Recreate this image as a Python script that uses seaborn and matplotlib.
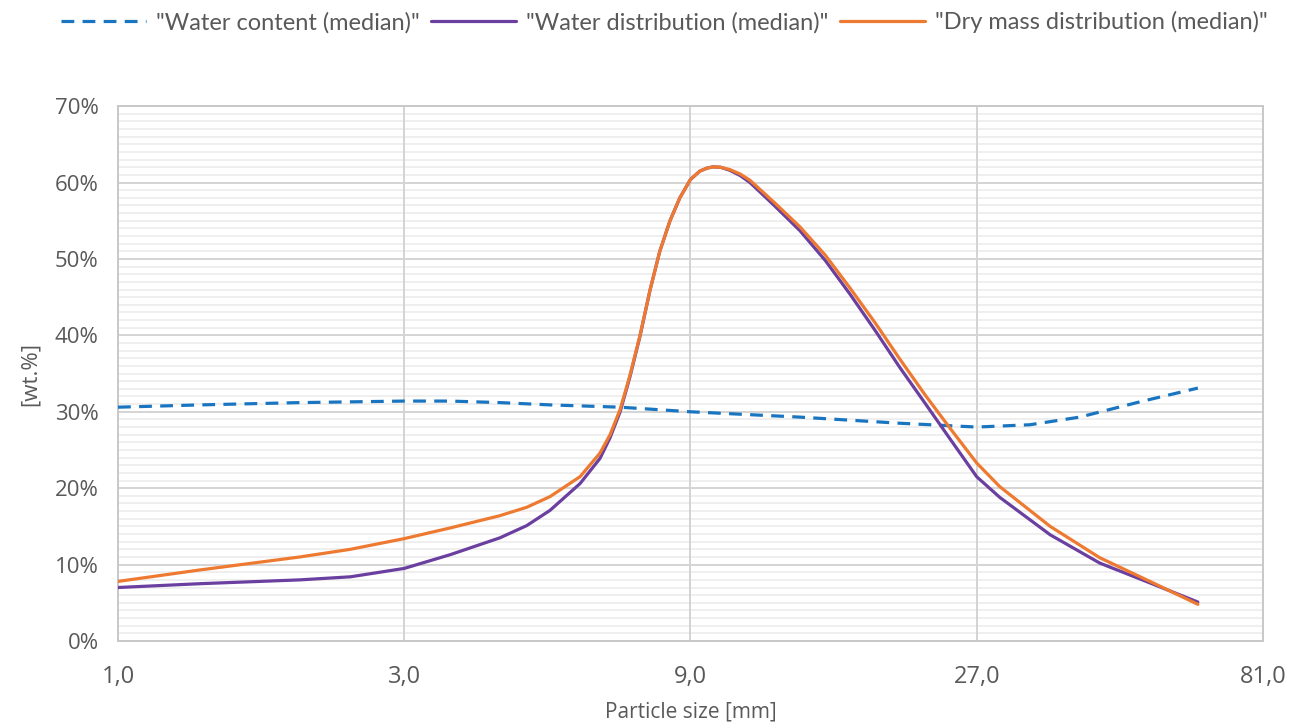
import numpy as np
import pandas as pd
import seaborn as sns
import matplotlib.pyplot as plt
from matplotlib.ticker import FixedLocator, FuncFormatter, MultipleLocator, NullLocator

# values (particle size in mm, wt.%)
size_wd = [1.0, 1.37, 2.01, 2.44, 3.0, 3.58, 4.33, 4.8, 5.25, 5.89, 6.36, 6.61, 6.87, 7.13,
           7.41, 7.71, 8.0, 8.32, 8.64, 9.0, 9.33, 9.6, 9.81, 10.1, 10.47, 10.9, 11.31, 12.45,
           13.7, 15.1, 16.6, 18.3, 20.1, 22.2, 24.4, 27.0, 29.5, 35.8, 43.3, 52.5, 63.1]
water_dist = [7.0, 7.5, 8.0, 8.4, 9.5, 11.3, 13.5, 15.1, 17.1, 20.6, 23.9, 26.6, 30.0, 34.5,
              39.8, 46.0, 51.0, 55.0, 58.0, 60.4, 61.5, 61.9, 62.05, 62.0, 61.6, 60.9, 60.0,
              56.9, 53.7, 49.8, 45.4, 40.6, 35.8, 31.0, 26.4, 21.5, 18.8, 13.9, 10.2, 7.6, 5.1]
dry_dist = [7.8, 9.3, 11.0, 12.0, 13.4, 14.8, 16.4, 17.5, 18.9, 21.5, 24.6, 27.0, 30.3, 34.7,
            39.9, 46.0, 51.0, 55.0, 58.0, 60.4, 61.5, 61.9, 62.05, 62.0, 61.7, 61.1, 60.3,
            57.3, 54.2, 50.5, 46.2, 41.6, 36.9, 32.1, 27.8, 23.3, 20.2, 15.0, 10.9, 7.8, 4.8]

size_wc = [1.0, 1.37, 2.01, 3.0, 3.58, 4.33, 5.25, 6.87, 9.0, 13.7, 20.1, 27.0, 33.1, 40.1,
           50.5, 63.1]
water_content = [30.6, 30.9, 31.2, 31.4, 31.4, 31.2, 30.9, 30.6, 30.0, 29.3, 28.5, 28.0,
                 28.3, 29.3, 31.3, 33.1]

x_ticks = [1, 3, 9, 27, 81]

sns.set_style("white")
plt.rcParams['font.family'] = ['Open Sans', 'DejaVu Sans']

fig = plt.figure(figsize=(12.9, 7.27), dpi=100)
ax = fig.add_axes([0.0915, 0.1183, 0.8875, 0.7357])

c_blue = '#1a75c0'
c_purple = '#6a3fa0'
c_orange = '#ed7a30'

sns.lineplot(x=size_wc, y=water_content, ax=ax, color=c_blue, linewidth=2.3,
             label='"Water content (median)"', zorder=3)
ax.lines[-1].set_dashes((4, 2.6))
sns.lineplot(x=size_wd, y=water_dist, ax=ax, color=c_purple, linewidth=2.3,
             label='"Water distribution (median)"', zorder=4, solid_joinstyle='round')
sns.lineplot(x=size_wd, y=dry_dist, ax=ax, color=c_orange, linewidth=2.3,
             label='"Dry mass distribution (median)"', zorder=5, solid_joinstyle='round')

ax.set_xscale('log', base=3)
ax.set_xlim(1, 81)
ax.set_ylim(0, 70)
ax.xaxis.set_major_locator(FixedLocator(x_ticks))
ax.xaxis.set_minor_locator(NullLocator())
ax.xaxis.set_major_formatter(FuncFormatter(lambda v, p: f"{v:.1f}".replace('.', ',')))
ax.yaxis.set_major_locator(MultipleLocator(10))
ax.yaxis.set_minor_locator(MultipleLocator(1))
ax.yaxis.set_major_formatter(FuncFormatter(lambda v, p: f"{v:.0f}%"))

ax.grid(which='major', color='#d4d4d4', linewidth=1.4)
ax.grid(which='minor', axis='y', color='#ececec', linewidth=1.2)
ax.set_axisbelow(True)
# vertical grid lines on top of the fine horizontal ones
ax.yaxis.set_zorder(0.4)
ax.xaxis.set_zorder(0.6)
for s in ax.spines.values():
    s.set_color('#c8c8c8')
    s.set_linewidth(1.4)

ax.tick_params(axis='both', which='both', length=0, labelcolor='#595959')
ax.tick_params(axis='x', pad=17, labelsize=17)
ax.tick_params(axis='y', pad=14, labelsize=16)

ax.set_xlabel('Particle size [mm]', fontsize=15, color='#595959', labelpad=9)
ax.set_ylabel('[wt.%]', fontsize=16, color='#595959', labelpad=10)

h, l = ax.get_legend_handles_labels()
ax.get_legend().remove()
fig.legend(h, l, loc='upper center', bbox_to_anchor=(0.515, 1.014), ncol=3, frameon=False,
           prop={'family': ['Lato', 'Open Sans'], 'size': 17},
           labelcolor='#595959', handlelength=3.6, columnspacing=0.5, handletextpad=0.4)

fig.savefig('out.png', dpi=100)
